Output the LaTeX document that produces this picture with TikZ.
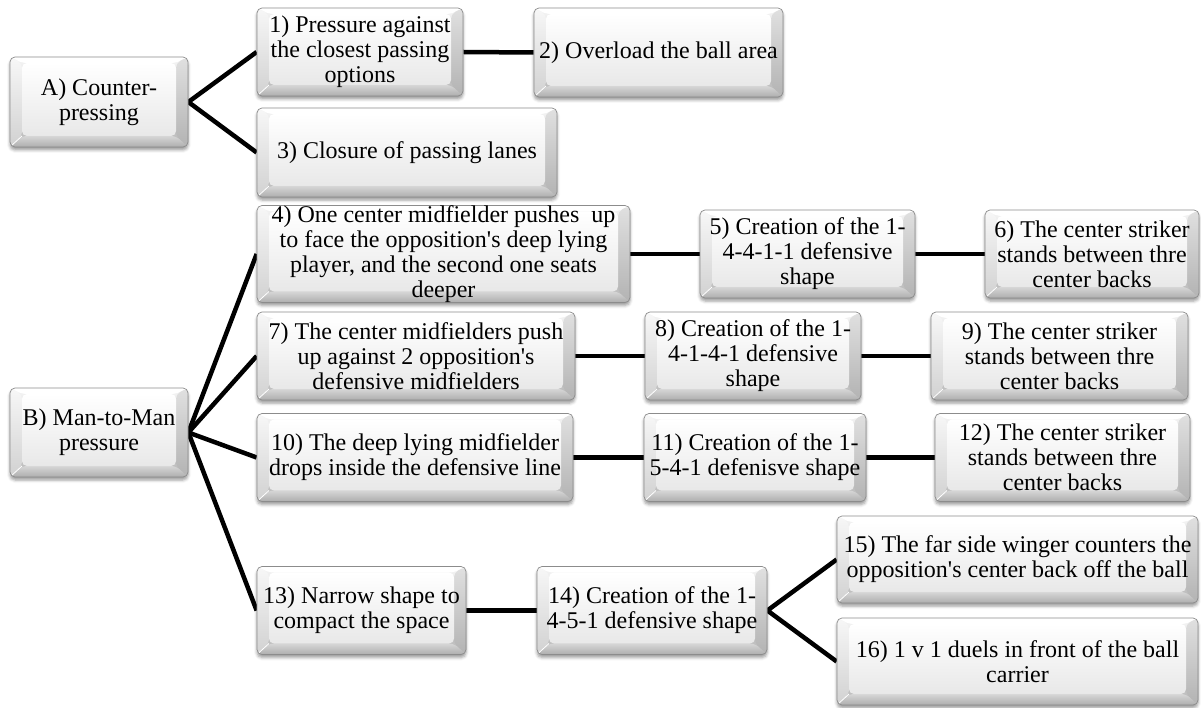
\documentclass[tikz,border=0pt]{standalone}
\usepackage{fontspec}
\setmainfont{Liberation Serif}[Ligatures=TeXOff]
\usetikzlibrary{shadows.blur,backgrounds}

% bevel facet widths
\newcommand\bvl{12pt}
\newcommand\bvr{12pt}
\newcommand\bvt{6pt}
\newcommand\bvb{11pt}

\tikzset{
  bevelbox/.style={
    rectangle, rounded corners=5pt, draw=black!45, line width=0.7pt,
    align=center, inner sep=0pt,
    font=\fontsize{24}{25}\selectfont,
    top color=black!4, bottom color=black!28,
    blur shadow={shadow xshift=0pt, shadow yshift=-3pt,
                 shadow blur radius=3pt, shadow opacity=40},
    path picture={
      % top facet
      \fill[white]
        (path picture bounding box.north west) --
        (path picture bounding box.north east) --
        ([xshift=-\bvr,yshift=-\bvt]path picture bounding box.north east) --
        ([xshift=\bvl,yshift=-\bvt]path picture bounding box.north west) -- cycle;
      % left facet
      \path[top color=black!3, bottom color=black!18]
        (path picture bounding box.north west) --
        ([xshift=\bvl,yshift=-\bvt]path picture bounding box.north west) --
        ([xshift=\bvl,yshift=\bvb]path picture bounding box.south west) --
        (path picture bounding box.south west) -- cycle;
      % right facet
      \path[top color=black!12, bottom color=black!30]
        (path picture bounding box.north east) --
        ([xshift=-\bvr,yshift=-\bvt]path picture bounding box.north east) --
        ([xshift=-\bvr,yshift=\bvb]path picture bounding box.south east) --
        (path picture bounding box.south east) -- cycle;
      % bottom facet
      \path[top color=black!16, bottom color=black!32]
        (path picture bounding box.south west) --
        ([xshift=\bvl,yshift=\bvb]path picture bounding box.south west) --
        ([xshift=-\bvr,yshift=\bvb]path picture bounding box.south east) --
        (path picture bounding box.south east) -- cycle;
      % front face
      \path[top color=white, bottom color=black!9]
        ([xshift=\bvl,yshift=-\bvt]path picture bounding box.north west) rectangle
        ([xshift=-\bvr,yshift=\bvb]path picture bounding box.south east);
      % light edge along the lower left corner
      \draw[white, line width=0.8pt]
        (path picture bounding box.south west) --
        ([xshift=\bvl,yshift=\bvb]path picture bounding box.south west);
    }
  },
  link/.style={line width=4.5pt, black, line join=miter},
}

\begin{document}
\begin{tikzpicture}[x=1pt,y=-1pt]
\useasboundingbox (0,0) rectangle (1201,708);

% roots
\node[bevelbox, minimum width=178pt, minimum height=90pt] (A) at (99,102) {A) Counter-\\pressing};
\node[bevelbox, minimum width=178pt, minimum height=89pt] (B) at (99,432.5) {B) Man-to-Man\\pressure};

% counter-pressing branch
\node[bevelbox, minimum width=206pt, minimum height=88pt] (n1) at (360,52) {1) Pressure against\\the closest passing\\options};
\node[bevelbox, minimum width=249pt, minimum height=89pt] (n2) at (658.5,52.5) {2) Overload the ball area};
\node[bevelbox, minimum width=300pt, minimum height=89pt] (n3) at (407,152.5) {3) Closure of passing lanes};

% man-to-man branch
\node[bevelbox, minimum width=373pt, minimum height=88pt] (n4) at (443.5,254) {4) One center midfielder pushes\ \ up\\to face the opposition's deep lying\\player, and the second one seats\\deeper};
\node[bevelbox, minimum width=215pt, minimum height=88pt] (n5) at (807.5,254) {5) Creation of the 1-\\4-4-1-1 defensive\\shape};
\node[bevelbox, minimum width=214pt, minimum height=88pt] (n6) at (1092,254) {6) The center striker\\stands between thre\\center backs};

\node[bevelbox, minimum width=318pt, minimum height=88pt] (n7) at (416,356) {7) The center midfielders push\\up against 2 opposition's\\defensive midfielders};
\node[bevelbox, minimum width=216pt, minimum height=88pt] (n8) at (753,356) {8) Creation of the 1-\\4-1-4-1 defensive\\shape};
\node[bevelbox, minimum width=257pt, minimum height=88pt] (n9) at (1059.5,356) {9) The center striker\\stands between thre\\center backs};

\node[bevelbox, minimum width=316pt, minimum height=88pt] (n10) at (415,457.5) {10) The deep lying midfielder\\drops inside the defensive line};
\node[bevelbox, minimum width=222pt, minimum height=88pt] (n11) at (755,457.5) {11) Creation of the 1-\\5-4-1 defenisve shape};
\node[bevelbox, minimum width=255pt, minimum height=88pt] (n12) at (1062.5,457.5) {12) The center striker\\stands between thre\\center backs};

\node[bevelbox, minimum width=209pt, minimum height=88pt] (n13) at (361.5,610.5) {13) Narrow shape to\\compact the space};
\node[bevelbox, minimum width=230pt, minimum height=88pt] (n14) at (652,610.5) {14) Creation of the 1-\\4-5-1 defensive shape};
\node[bevelbox, minimum width=361pt, minimum height=87pt] (n15) at (1017.5,559.5) {15) The far side winger counters the\\opposition's center back off the ball};
\node[bevelbox, minimum width=361pt, minimum height=87pt] (n16) at (1017.5,661.5) {16) 1 v 1 duels in front of the ball\\carrier};

% connectors, kept behind the boxes
\begin{pgfonlayer}{background}
  \draw[link] (n1.west) -- (A.east) -- (n3.west);
  \draw[link] (n1.east) -- (n2.west);

  \draw[link] (n4.west) -- (B.east) -- (n13.west);
  \draw[link] (n7.west) -- (B.east) -- (n10.west);

  \draw[link] (n4.east) -- (n5.west);
  \draw[link] (n5.east) -- (n6.west);
  \draw[link] (n7.east) -- (n8.west);
  \draw[link] (n8.east) -- (n9.west);
  \draw[link] (n10.east) -- (n11.west);
  \draw[link] (n11.east) -- (n12.west);
  \draw[link] (n13.east) -- (n14.west);
  \draw[link] (n15.west) -- (n14.east) -- (n16.west);
\end{pgfonlayer}
\end{tikzpicture}
\end{document}
